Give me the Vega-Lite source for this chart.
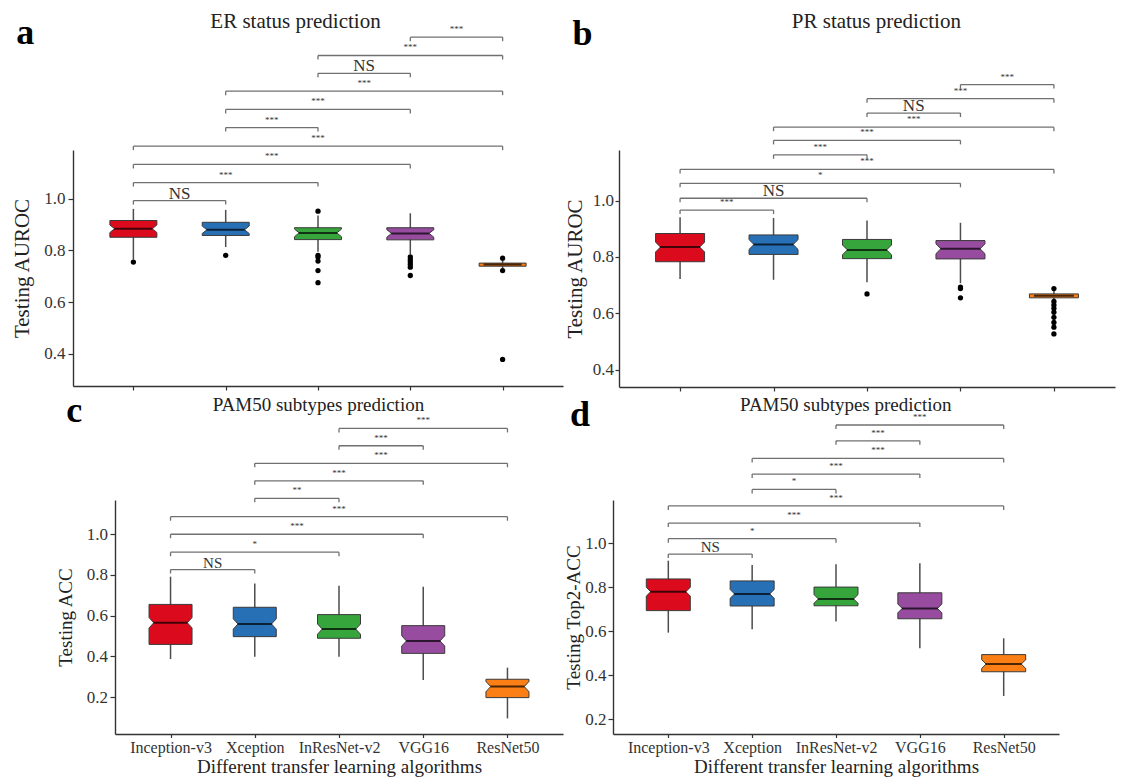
{
  "$schema": "https://vega.github.io/schema/vega-lite/v6.json",
  "background": "white",
  "padding": {"left": 11, "top": 10, "right": 5, "bottom": 5},
  "config": {
    "font": "Liberation Serif",
    "view": {"stroke": null},
    "axis": {"grid": false, "domainColor": "#333", "domainWidth": 1.4, "tickColor": "#333", "tickWidth": 1.2, "labelColor": "#333", "titleColor": "#222", "labelFont": "Liberation Serif", "titleFont": "Liberation Serif", "titleFontWeight": "normal", "labelFontSize": 17}
  },
  "datasets": {
    "boxes": [
      {"panel": "a", "model": "Inception-v3", "lo": 0.765, "q1": 0.851, "med": 0.884, "q3": 0.916, "hi": 0.961},
      {"panel": "a", "model": "Xception", "lo": 0.813, "q1": 0.858, "med": 0.880, "q3": 0.909, "hi": 0.957},
      {"panel": "a", "model": "InResNet-v2", "lo": 0.795, "q1": 0.842, "med": 0.868, "q3": 0.888, "hi": 0.935},
      {"panel": "a", "model": "VGG16", "lo": 0.785, "q1": 0.841, "med": 0.866, "q3": 0.888, "hi": 0.944},
      {"panel": "a", "model": "ResNet50", "lo": 0.730, "q1": 0.739, "med": 0.746, "q3": 0.751, "hi": 0.762},
      {"panel": "b", "model": "Inception-v3", "lo": 0.722, "q1": 0.783, "med": 0.835, "q3": 0.883, "hi": 0.941},
      {"panel": "b", "model": "Xception", "lo": 0.719, "q1": 0.809, "med": 0.844, "q3": 0.878, "hi": 0.938},
      {"panel": "b", "model": "InResNet-v2", "lo": 0.710, "q1": 0.794, "med": 0.825, "q3": 0.862, "hi": 0.929},
      {"panel": "b", "model": "VGG16", "lo": 0.707, "q1": 0.793, "med": 0.829, "q3": 0.858, "hi": 0.921},
      {"panel": "b", "model": "ResNet50", "lo": 0.650, "q1": 0.655, "med": 0.662, "q3": 0.669, "hi": 0.680},
      {"panel": "c", "model": "Inception-v3", "lo": 0.387, "q1": 0.459, "med": 0.565, "q3": 0.655, "hi": 0.791},
      {"panel": "c", "model": "Xception", "lo": 0.399, "q1": 0.497, "med": 0.559, "q3": 0.641, "hi": 0.758},
      {"panel": "c", "model": "InResNet-v2", "lo": 0.399, "q1": 0.489, "med": 0.534, "q3": 0.605, "hi": 0.747},
      {"panel": "c", "model": "VGG16", "lo": 0.284, "q1": 0.415, "med": 0.476, "q3": 0.551, "hi": 0.742},
      {"panel": "c", "model": "ResNet50", "lo": 0.096, "q1": 0.198, "med": 0.252, "q3": 0.288, "hi": 0.345},
      {"panel": "d", "model": "Inception-v3", "lo": 0.594, "q1": 0.694, "med": 0.780, "q3": 0.838, "hi": 0.921},
      {"panel": "d", "model": "Xception", "lo": 0.609, "q1": 0.715, "med": 0.770, "q3": 0.829, "hi": 0.901},
      {"panel": "d", "model": "InResNet-v2", "lo": 0.644, "q1": 0.716, "med": 0.747, "q3": 0.801, "hi": 0.905},
      {"panel": "d", "model": "VGG16", "lo": 0.523, "q1": 0.657, "med": 0.704, "q3": 0.775, "hi": 0.909},
      {"panel": "d", "model": "ResNet50", "lo": 0.306, "q1": 0.416, "med": 0.451, "q3": 0.494, "hi": 0.568}
    ],
    "outliers": [
      {"panel": "a", "model": "Inception-v3", "v": 0.755},
      {"panel": "a", "model": "Xception", "v": 0.781},
      {"panel": "a", "model": "InResNet-v2", "v": 0.952},
      {"panel": "a", "model": "InResNet-v2", "v": 0.781},
      {"panel": "a", "model": "InResNet-v2", "v": 0.775},
      {"panel": "a", "model": "InResNet-v2", "v": 0.759},
      {"panel": "a", "model": "InResNet-v2", "v": 0.722},
      {"panel": "a", "model": "InResNet-v2", "v": 0.675},
      {"panel": "a", "model": "VGG16", "v": 0.775},
      {"panel": "a", "model": "VGG16", "v": 0.764},
      {"panel": "a", "model": "VGG16", "v": 0.755},
      {"panel": "a", "model": "VGG16", "v": 0.746},
      {"panel": "a", "model": "VGG16", "v": 0.735},
      {"panel": "a", "model": "VGG16", "v": 0.703},
      {"panel": "a", "model": "ResNet50", "v": 0.770},
      {"panel": "a", "model": "ResNet50", "v": 0.722},
      {"panel": "a", "model": "ResNet50", "v": 0.378},
      {"panel": "b", "model": "InResNet-v2", "v": 0.669},
      {"panel": "b", "model": "VGG16", "v": 0.693},
      {"panel": "b", "model": "VGG16", "v": 0.688},
      {"panel": "b", "model": "VGG16", "v": 0.655},
      {"panel": "b", "model": "ResNet50", "v": 0.688},
      {"panel": "b", "model": "ResNet50", "v": 0.642},
      {"panel": "b", "model": "ResNet50", "v": 0.630},
      {"panel": "b", "model": "ResNet50", "v": 0.618},
      {"panel": "b", "model": "ResNet50", "v": 0.604},
      {"panel": "b", "model": "ResNet50", "v": 0.586},
      {"panel": "b", "model": "ResNet50", "v": 0.568},
      {"panel": "b", "model": "ResNet50", "v": 0.551},
      {"panel": "b", "model": "ResNet50", "v": 0.527}
    ],
    "brackets": [
      {"panel": "a", "from": "VGG16", "to": "ResNet50", "y": 1.626, "label": "***"},
      {"panel": "a", "from": "InResNet-v2", "to": "ResNet50", "y": 1.555, "label": "***"},
      {"panel": "a", "from": "InResNet-v2", "to": "VGG16", "y": 1.486, "label": "NS"},
      {"panel": "a", "from": "Xception", "to": "ResNet50", "y": 1.417, "label": "***"},
      {"panel": "a", "from": "Xception", "to": "VGG16", "y": 1.346, "label": "***"},
      {"panel": "a", "from": "Xception", "to": "InResNet-v2", "y": 1.276, "label": "***"},
      {"panel": "a", "from": "Inception-v3", "to": "ResNet50", "y": 1.204, "label": "***"},
      {"panel": "a", "from": "Inception-v3", "to": "VGG16", "y": 1.133, "label": "***"},
      {"panel": "a", "from": "Inception-v3", "to": "InResNet-v2", "y": 1.063, "label": "***"},
      {"panel": "a", "from": "Inception-v3", "to": "Xception", "y": 0.993, "label": "NS"},
      {"panel": "b", "from": "VGG16", "to": "ResNet50", "y": 1.411, "label": "***"},
      {"panel": "b", "from": "InResNet-v2", "to": "ResNet50", "y": 1.361, "label": "***"},
      {"panel": "b", "from": "InResNet-v2", "to": "VGG16", "y": 1.310, "label": "NS"},
      {"panel": "b", "from": "Xception", "to": "ResNet50", "y": 1.260, "label": "***"},
      {"panel": "b", "from": "Xception", "to": "VGG16", "y": 1.213, "label": "***"},
      {"panel": "b", "from": "Xception", "to": "InResNet-v2", "y": 1.162, "label": "***"},
      {"panel": "b", "from": "Inception-v3", "to": "ResNet50", "y": 1.110, "label": "***"},
      {"panel": "b", "from": "Inception-v3", "to": "VGG16", "y": 1.061, "label": "*"},
      {"panel": "b", "from": "Inception-v3", "to": "InResNet-v2", "y": 1.008, "label": "NS"},
      {"panel": "b", "from": "Inception-v3", "to": "Xception", "y": 0.966, "label": "***"},
      {"panel": "c", "from": "InResNet-v2", "to": "ResNet50", "y": 1.518, "label": "***"},
      {"panel": "c", "from": "InResNet-v2", "to": "VGG16", "y": 1.433, "label": "***"},
      {"panel": "c", "from": "Xception", "to": "ResNet50", "y": 1.347, "label": "***"},
      {"panel": "c", "from": "Xception", "to": "VGG16", "y": 1.261, "label": "***"},
      {"panel": "c", "from": "Xception", "to": "InResNet-v2", "y": 1.175, "label": "**"},
      {"panel": "c", "from": "Inception-v3", "to": "ResNet50", "y": 1.085, "label": "***"},
      {"panel": "c", "from": "Inception-v3", "to": "VGG16", "y": 0.999, "label": "***"},
      {"panel": "c", "from": "Inception-v3", "to": "InResNet-v2", "y": 0.911, "label": "*"},
      {"panel": "c", "from": "Inception-v3", "to": "Xception", "y": 0.826, "label": "NS"},
      {"panel": "d", "from": "InResNet-v2", "to": "ResNet50", "y": 1.538, "label": "***"},
      {"panel": "d", "from": "InResNet-v2", "to": "VGG16", "y": 1.466, "label": "***"},
      {"panel": "d", "from": "Xception", "to": "ResNet50", "y": 1.386, "label": "***"},
      {"panel": "d", "from": "Xception", "to": "VGG16", "y": 1.315, "label": "***"},
      {"panel": "d", "from": "Xception", "to": "InResNet-v2", "y": 1.245, "label": "*"},
      {"panel": "d", "from": "Inception-v3", "to": "ResNet50", "y": 1.170, "label": "***"},
      {"panel": "d", "from": "Inception-v3", "to": "VGG16", "y": 1.092, "label": "***"},
      {"panel": "d", "from": "Inception-v3", "to": "InResNet-v2", "y": 1.021, "label": "*"},
      {"panel": "d", "from": "Inception-v3", "to": "Xception", "y": 0.951, "label": "NS"}
    ]
  },
  "spacing": 0,
  "vconcat": [
    {
      "bounds": "flush",
      "spacing": 56,
      "hconcat": [
        {
          "width": 490, "height": 236,
          "layer": [
            {
              "data": {"name": "boxes"},
              "transform": [{"filter": "datum.panel === 'a'"}, {"calculate": "indexof(['Inception-v3','Xception','InResNet-v2','VGG16','ResNet50'], datum.model) + 1", "as": "i"}],
              "layer": [
                {"mark": {"type": "rule", "color": "#4d4d4d", "strokeWidth": 1.5},
                 "encoding": {
                   "x": {"field": "i", "type": "quantitative", "scale": {"domain": [0.4, 5.6], "nice": false, "zero": false}, "axis": {"values": [1, 2, 3, 4, 5], "labels": false, "tickSize": 4, "title": null}},
                   "y": {"field": "lo", "type": "quantitative", "scale": {"domain": [0.275, 1.189], "nice": false, "zero": false}, "axis": {"values": [0.4, 0.6, 0.8, 1.0], "format": ".1f", "tickSize": 5, "labelPadding": 3, "title": "Testing AUROC", "titleFontSize": 21, "titlePadding": 11.5}},
                   "y2": {"field": "hi"}}},
                {"mark": {"type": "bar", "width": 47, "stroke": "#3a3a3a", "strokeWidth": 1},
                 "encoding": {"x": {"field": "i", "type": "quantitative"}, "y": {"field": "q1", "type": "quantitative"}, "y2": {"field": "q3"},
                   "fill": {"field": "model", "type": "nominal", "scale": {"domain": ["Inception-v3", "Xception", "InResNet-v2", "VGG16", "ResNet50"], "range": ["#DB0A1C", "#2870B6", "#36A63C", "#984C9F", "#FB7F14"]}, "legend": null}}},
                {"transform": [{"filter": "datum.model !== 'ResNet50'"}],
                 "mark": {"type": "point", "shape": "M-1.12,-0.16L-1,-0.16L-0.8,0L-1,0.16L-1.12,0.16Z M1.12,-0.16L1,-0.16L0.8,0L1,0.16L1.12,0.16Z", "filled": true, "fill": "#ffffff", "strokeWidth": 0, "size": 2209, "opacity": 1},
                 "encoding": {"x": {"field": "i", "type": "quantitative"}, "y": {"field": "med", "type": "quantitative"}}},
                {"transform": [{"filter": "datum.model !== 'ResNet50'"}],
                 "mark": {"type": "point", "shape": "M-1,-0.16L-0.8,0L-1,0.16 M1,-0.16L0.8,0L1,0.16", "filled": false, "stroke": "#3a3a3a", "strokeWidth": 1, "size": 2209, "opacity": 1},
                 "encoding": {"x": {"field": "i", "type": "quantitative"}, "y": {"field": "med", "type": "quantitative"}}},
                {"mark": {"type": "tick", "orient": "horizontal", "size": 38, "thickness": 2, "color": "#000"},
                 "encoding": {"x": {"field": "i", "type": "quantitative"}, "y": {"field": "med", "type": "quantitative"}}}
              ]
            },
            {
              "data": {"name": "outliers"},
              "transform": [{"filter": "datum.panel === 'a'"}, {"calculate": "indexof(['Inception-v3','Xception','InResNet-v2','VGG16','ResNet50'], datum.model) + 1", "as": "i"}],
              "mark": {"type": "point", "filled": true, "color": "#000", "size": 28, "opacity": 1},
              "encoding": {"x": {"field": "i", "type": "quantitative"}, "y": {"field": "v", "type": "quantitative"}}
            },
            {
              "data": {"name": "brackets"},
              "transform": [{"filter": "datum.panel === 'a'"},
                {"calculate": "indexof(['Inception-v3','Xception','InResNet-v2','VGG16','ResNet50'], datum.from) + 1", "as": "fi"},
                {"calculate": "indexof(['Inception-v3','Xception','InResNet-v2','VGG16','ResNet50'], datum.to) + 1", "as": "ti"},
                {"calculate": "(datum.fi + datum.ti) / 2", "as": "mid"}],
              "layer": [
                {"mark": {"type": "rule", "color": "#707070", "strokeWidth": 1.3},
                 "encoding": {"x": {"field": "fi", "type": "quantitative"}, "x2": {"field": "ti"}, "y": {"field": "y", "type": "quantitative"}}},
                {"mark": {"type": "point", "shape": "M0,0L0,1", "filled": false, "stroke": "#707070", "strokeWidth": 1.3, "size": 64, "opacity": 1},
                 "encoding": {"x": {"field": "fi", "type": "quantitative"}, "y": {"field": "y", "type": "quantitative"}}},
                {"mark": {"type": "point", "shape": "M0,0L0,1", "filled": false, "stroke": "#707070", "strokeWidth": 1.3, "size": 64, "opacity": 1},
                 "encoding": {"x": {"field": "ti", "type": "quantitative"}, "y": {"field": "y", "type": "quantitative"}}},
                {"transform": [{"filter": "datum.label === 'NS'"}],
                 "mark": {"type": "text", "fontSize": 17, "color": "#333", "align": "center", "baseline": "alphabetic", "dy": -2},
                 "encoding": {"x": {"field": "mid", "type": "quantitative"}, "y": {"field": "y", "type": "quantitative"}, "text": {"field": "label"}}},
                {"transform": [{"filter": "datum.label !== 'NS'"}],
                 "mark": {"type": "text", "fontSize": 9, "color": "#333", "align": "center", "baseline": "alphabetic", "dy": -5},
                 "encoding": {"x": {"field": "mid", "type": "quantitative"}, "y": {"field": "y", "type": "quantitative"}, "text": {"field": "label"}}}
              ]
            },
            {
              "data": {"values": [{"t": "ER status prediction"}]},
              "mark": {"type": "text", "fontSize": 21, "color": "#222", "align": "center", "baseline": "alphabetic"},
              "encoding": {"x": {"datum": 2.756}, "y": {"datum": 1.663}, "text": {"field": "t"}}
            },
            {
              "data": {"values": [{"t": "a"}]},
              "mark": {"type": "text", "fontSize": 36, "fontWeight": "bold", "color": "#000", "align": "left", "baseline": "alphabetic"},
              "encoding": {"x": {"datum": -0.269}, "y": {"datum": 1.600}, "text": {"field": "t"}}
            }
          ]
        },
        {
          "width": 496, "height": 237,
          "layer": [
            {
              "data": {"name": "boxes"},
              "transform": [{"filter": "datum.panel === 'b'"}, {"calculate": "indexof(['Inception-v3','Xception','InResNet-v2','VGG16','ResNet50'], datum.model) + 1", "as": "i"}],
              "layer": [
                {"mark": {"type": "rule", "color": "#4d4d4d", "strokeWidth": 1.5},
                 "encoding": {
                   "x": {"field": "i", "type": "quantitative", "scale": {"domain": [0.4, 5.6], "nice": false, "zero": false}, "axis": {"values": [1, 2, 3, 4, 5], "labels": false, "tickSize": 4, "title": null}},
                   "y": {"field": "lo", "type": "quantitative", "scale": {"domain": [0.339, 1.179], "nice": false, "zero": false}, "axis": {"values": [0.4, 0.6, 0.8, 1.0], "format": ".1f", "tickSize": 4, "labelPadding": 1.5, "title": "Testing AUROC", "titleFontSize": 21, "titlePadding": 7}},
                   "y2": {"field": "hi"}}},
                {"mark": {"type": "bar", "width": 49, "stroke": "#3a3a3a", "strokeWidth": 1},
                 "encoding": {"x": {"field": "i", "type": "quantitative"}, "y": {"field": "q1", "type": "quantitative"}, "y2": {"field": "q3"},
                   "fill": {"field": "model", "type": "nominal", "scale": {"domain": ["Inception-v3", "Xception", "InResNet-v2", "VGG16", "ResNet50"], "range": ["#DB0A1C", "#2870B6", "#36A63C", "#984C9F", "#FB7F14"]}, "legend": null}}},
                {"transform": [{"filter": "datum.model !== 'ResNet50'"}],
                 "mark": {"type": "point", "shape": "M-1.12,-0.2L-1,-0.2L-0.8,0L-1,0.2L-1.12,0.2Z M1.12,-0.2L1,-0.2L0.8,0L1,0.2L1.12,0.2Z", "filled": true, "fill": "#ffffff", "strokeWidth": 0, "size": 2401, "opacity": 1},
                 "encoding": {"x": {"field": "i", "type": "quantitative"}, "y": {"field": "med", "type": "quantitative"}}},
                {"transform": [{"filter": "datum.model !== 'ResNet50'"}],
                 "mark": {"type": "point", "shape": "M-1,-0.2L-0.8,0L-1,0.2 M1,-0.2L0.8,0L1,0.2", "filled": false, "stroke": "#3a3a3a", "strokeWidth": 1, "size": 2401, "opacity": 1},
                 "encoding": {"x": {"field": "i", "type": "quantitative"}, "y": {"field": "med", "type": "quantitative"}}},
                {"mark": {"type": "tick", "orient": "horizontal", "size": 40, "thickness": 2, "color": "#000"},
                 "encoding": {"x": {"field": "i", "type": "quantitative"}, "y": {"field": "med", "type": "quantitative"}}}
              ]
            },
            {
              "data": {"name": "outliers"},
              "transform": [{"filter": "datum.panel === 'b'"}, {"calculate": "indexof(['Inception-v3','Xception','InResNet-v2','VGG16','ResNet50'], datum.model) + 1", "as": "i"}],
              "mark": {"type": "point", "filled": true, "color": "#000", "size": 28, "opacity": 1},
              "encoding": {"x": {"field": "i", "type": "quantitative"}, "y": {"field": "v", "type": "quantitative"}}
            },
            {
              "data": {"name": "brackets"},
              "transform": [{"filter": "datum.panel === 'b'"},
                {"calculate": "indexof(['Inception-v3','Xception','InResNet-v2','VGG16','ResNet50'], datum.from) + 1", "as": "fi"},
                {"calculate": "indexof(['Inception-v3','Xception','InResNet-v2','VGG16','ResNet50'], datum.to) + 1", "as": "ti"},
                {"calculate": "(datum.fi + datum.ti) / 2", "as": "mid"}],
              "layer": [
                {"mark": {"type": "rule", "color": "#707070", "strokeWidth": 1.3},
                 "encoding": {"x": {"field": "fi", "type": "quantitative"}, "x2": {"field": "ti"}, "y": {"field": "y", "type": "quantitative"}}},
                {"mark": {"type": "point", "shape": "M0,0L0,1", "filled": false, "stroke": "#707070", "strokeWidth": 1.3, "size": 64, "opacity": 1},
                 "encoding": {"x": {"field": "fi", "type": "quantitative"}, "y": {"field": "y", "type": "quantitative"}}},
                {"mark": {"type": "point", "shape": "M0,0L0,1", "filled": false, "stroke": "#707070", "strokeWidth": 1.3, "size": 64, "opacity": 1},
                 "encoding": {"x": {"field": "ti", "type": "quantitative"}, "y": {"field": "y", "type": "quantitative"}}},
                {"transform": [{"filter": "datum.label === 'NS'"}],
                 "mark": {"type": "text", "fontSize": 17, "color": "#333", "align": "center", "baseline": "alphabetic", "dy": -2},
                 "encoding": {"x": {"field": "mid", "type": "quantitative"}, "y": {"field": "y", "type": "quantitative"}, "text": {"field": "label"}}},
                {"transform": [{"filter": "datum.label !== 'NS'"}],
                 "mark": {"type": "text", "fontSize": 9, "color": "#333", "align": "center", "baseline": "alphabetic", "dy": -5},
                 "encoding": {"x": {"field": "mid", "type": "quantitative"}, "y": {"field": "y", "type": "quantitative"}, "text": {"field": "label"}}}
              ]
            },
            {
              "data": {"values": [{"t": "PR status prediction"}]},
              "mark": {"type": "text", "fontSize": 21, "color": "#222", "align": "center", "baseline": "alphabetic"},
              "encoding": {"x": {"datum": 3.100}, "y": {"datum": 1.610}, "text": {"field": "t"}}
            },
            {
              "data": {"values": [{"t": "b"}]},
              "mark": {"type": "text", "fontSize": 36, "fontWeight": "bold", "color": "#000", "align": "left", "baseline": "alphabetic"},
              "encoding": {"x": {"datum": -0.150}, "y": {"datum": 1.550}, "text": {"field": "t"}}
            }
          ]
        }
      ]
    },
    {
      "bounds": "flush",
      "spacing": 20,
      "hconcat": [
        {"width": 22, "height": 1, "data": {"values": []}, "mark": "point"},
        {
          "bounds": "flush",
          "spacing": 50,
          "hconcat": [
            {
              "width": 448, "height": 234,
              "layer": [
                {
                  "data": {"name": "boxes"},
                  "transform": [{"filter": "datum.panel === 'c'"}, {"calculate": "indexof(['Inception-v3','Xception','InResNet-v2','VGG16','ResNet50'], datum.model) + 1", "as": "i"}],
                  "layer": [
                    {"mark": {"type": "rule", "color": "#4d4d4d", "strokeWidth": 1.5},
                     "encoding": {
                       "x": {"field": "i", "type": "quantitative", "scale": {"domain": [0.4, 5.6], "nice": false, "zero": false}, "axis": {"values": [1, 2, 3, 4, 5], "labelExpr": "['','Inception-v3','Xception','InResNet-v2','VGG16','ResNet50'][datum.value]", "labelFontSize": 16, "labelPadding": 2, "tickSize": 3.5, "title": "Different transfer learning algorithms", "titleFontSize": 19, "titlePadding": 2}},
                       "y": {"field": "lo", "type": "quantitative", "scale": {"domain": [0.0196, 1.167], "nice": false, "zero": false}, "axis": {"values": [0.2, 0.4, 0.6, 0.8, 1.0], "format": ".1f", "tickSize": 5, "labelPadding": 2.5, "title": "Testing ACC", "titleFontSize": 19, "titlePadding": 10.5}},
                       "y2": {"field": "hi"}}},
                    {"mark": {"type": "bar", "width": 43, "stroke": "#3a3a3a", "strokeWidth": 1},
                     "encoding": {"x": {"field": "i", "type": "quantitative"}, "y": {"field": "q1", "type": "quantitative"}, "y2": {"field": "q3"},
                       "fill": {"field": "model", "type": "nominal", "scale": {"domain": ["Inception-v3", "Xception", "InResNet-v2", "VGG16", "ResNet50"], "range": ["#DB0A1C", "#2870B6", "#36A63C", "#984C9F", "#FB7F14"]}, "legend": null}}},
                    {"mark": {"type": "point", "shape": "M-1.12,-0.24L-1,-0.24L-0.78,0L-1,0.24L-1.12,0.24Z M1.12,-0.24L1,-0.24L0.78,0L1,0.24L1.12,0.24Z", "filled": true, "fill": "#ffffff", "strokeWidth": 0, "size": 1849, "opacity": 1},
                     "encoding": {"x": {"field": "i", "type": "quantitative"}, "y": {"field": "med", "type": "quantitative"}}},
                    {"mark": {"type": "point", "shape": "M-1,-0.24L-0.78,0L-1,0.24 M1,-0.24L0.78,0L1,0.24", "filled": false, "stroke": "#3a3a3a", "strokeWidth": 1, "size": 1849, "opacity": 1},
                     "encoding": {"x": {"field": "i", "type": "quantitative"}, "y": {"field": "med", "type": "quantitative"}}},
                    {"mark": {"type": "tick", "orient": "horizontal", "size": 34, "thickness": 2, "color": "#000"},
                     "encoding": {"x": {"field": "i", "type": "quantitative"}, "y": {"field": "med", "type": "quantitative"}}}
                  ]
                },
                {
                  "data": {"name": "brackets"},
                  "transform": [{"filter": "datum.panel === 'c'"},
                    {"calculate": "indexof(['Inception-v3','Xception','InResNet-v2','VGG16','ResNet50'], datum.from) + 1", "as": "fi"},
                    {"calculate": "indexof(['Inception-v3','Xception','InResNet-v2','VGG16','ResNet50'], datum.to) + 1", "as": "ti"},
                    {"calculate": "(datum.fi + datum.ti) / 2", "as": "mid"}],
                  "layer": [
                    {"mark": {"type": "rule", "color": "#707070", "strokeWidth": 1.3},
                     "encoding": {"x": {"field": "fi", "type": "quantitative"}, "x2": {"field": "ti"}, "y": {"field": "y", "type": "quantitative"}}},
                    {"mark": {"type": "point", "shape": "M0,0L0,1", "filled": false, "stroke": "#707070", "strokeWidth": 1.3, "size": 64, "opacity": 1},
                     "encoding": {"x": {"field": "fi", "type": "quantitative"}, "y": {"field": "y", "type": "quantitative"}}},
                    {"mark": {"type": "point", "shape": "M0,0L0,1", "filled": false, "stroke": "#707070", "strokeWidth": 1.3, "size": 64, "opacity": 1},
                     "encoding": {"x": {"field": "ti", "type": "quantitative"}, "y": {"field": "y", "type": "quantitative"}}},
                    {"transform": [{"filter": "datum.label === 'NS'"}],
                     "mark": {"type": "text", "fontSize": 15, "color": "#333", "align": "center", "baseline": "alphabetic", "dy": -2},
                     "encoding": {"x": {"field": "mid", "type": "quantitative"}, "y": {"field": "y", "type": "quantitative"}, "text": {"field": "label"}}},
                    {"transform": [{"filter": "datum.label !== 'NS'"}],
                     "mark": {"type": "text", "fontSize": 9, "color": "#333", "align": "center", "baseline": "alphabetic", "dy": -5},
                     "encoding": {"x": {"field": "mid", "type": "quantitative"}, "y": {"field": "y", "type": "quantitative"}, "text": {"field": "label"}}}
                  ]
                },
                {
                  "data": {"values": [{"t": "PAM50 subtypes prediction"}]},
                  "mark": {"type": "text", "fontSize": 19, "color": "#222", "align": "center", "baseline": "alphabetic"},
                  "encoding": {"x": {"datum": 2.756}, "y": {"datum": 1.604}, "text": {"field": "t"}}
                },
                {
                  "data": {"values": [{"t": "c"}]},
                  "mark": {"type": "text", "fontSize": 36, "fontWeight": "bold", "color": "#000", "align": "left", "baseline": "alphabetic"},
                  "encoding": {"x": {"datum": -0.238}, "y": {"datum": 1.550}, "text": {"field": "t"}}
                }
              ]
            },
            {
              "width": 446, "height": 234,
              "layer": [
                {
                  "data": {"name": "boxes"},
                  "transform": [{"filter": "datum.panel === 'd'"}, {"calculate": "indexof(['Inception-v3','Xception','InResNet-v2','VGG16','ResNet50'], datum.model) + 1", "as": "i"}],
                  "layer": [
                    {"mark": {"type": "rule", "color": "#4d4d4d", "strokeWidth": 1.5},
                     "encoding": {
                       "x": {"field": "i", "type": "quantitative", "scale": {"domain": [0.4, 5.6], "nice": false, "zero": false}, "axis": {"values": [1, 2, 3, 4, 5], "labelExpr": "['','Inception-v3','Xception','InResNet-v2','VGG16','ResNet50'][datum.value]", "labelFontSize": 16, "labelPadding": 2, "tickSize": 3.5, "title": "Different transfer learning algorithms", "titleFontSize": 19, "titlePadding": 2}},
                       "y": {"field": "lo", "type": "quantitative", "scale": {"domain": [0.133, 1.197], "nice": false, "zero": false}, "axis": {"values": [0.2, 0.4, 0.6, 0.8, 1.0], "format": ".1f", "tickSize": 5, "labelPadding": 2, "title": "Testing Top2-ACC", "titleFontSize": 19, "titlePadding": 1.5}},
                       "y2": {"field": "hi"}}},
                    {"mark": {"type": "bar", "width": 44, "stroke": "#3a3a3a", "strokeWidth": 1},
                     "encoding": {"x": {"field": "i", "type": "quantitative"}, "y": {"field": "q1", "type": "quantitative"}, "y2": {"field": "q3"},
                       "fill": {"field": "model", "type": "nominal", "scale": {"domain": ["Inception-v3", "Xception", "InResNet-v2", "VGG16", "ResNet50"], "range": ["#DB0A1C", "#2870B6", "#36A63C", "#984C9F", "#FB7F14"]}, "legend": null}}},
                    {"mark": {"type": "point", "shape": "M-1.12,-0.2L-1,-0.2L-0.8,0L-1,0.2L-1.12,0.2Z M1.12,-0.2L1,-0.2L0.8,0L1,0.2L1.12,0.2Z", "filled": true, "fill": "#ffffff", "strokeWidth": 0, "size": 1936, "opacity": 1},
                     "encoding": {"x": {"field": "i", "type": "quantitative"}, "y": {"field": "med", "type": "quantitative"}}},
                    {"mark": {"type": "point", "shape": "M-1,-0.2L-0.8,0L-1,0.2 M1,-0.2L0.8,0L1,0.2", "filled": false, "stroke": "#3a3a3a", "strokeWidth": 1, "size": 1936, "opacity": 1},
                     "encoding": {"x": {"field": "i", "type": "quantitative"}, "y": {"field": "med", "type": "quantitative"}}},
                    {"mark": {"type": "tick", "orient": "horizontal", "size": 36, "thickness": 2, "color": "#000"},
                     "encoding": {"x": {"field": "i", "type": "quantitative"}, "y": {"field": "med", "type": "quantitative"}}}
                  ]
                },
                {
                  "data": {"name": "brackets"},
                  "transform": [{"filter": "datum.panel === 'd'"},
                    {"calculate": "indexof(['Inception-v3','Xception','InResNet-v2','VGG16','ResNet50'], datum.from) + 1", "as": "fi"},
                    {"calculate": "indexof(['Inception-v3','Xception','InResNet-v2','VGG16','ResNet50'], datum.to) + 1", "as": "ti"},
                    {"calculate": "(datum.fi + datum.ti) / 2", "as": "mid"}],
                  "layer": [
                    {"mark": {"type": "rule", "color": "#707070", "strokeWidth": 1.3},
                     "encoding": {"x": {"field": "fi", "type": "quantitative"}, "x2": {"field": "ti"}, "y": {"field": "y", "type": "quantitative"}}},
                    {"mark": {"type": "point", "shape": "M0,0L0,1", "filled": false, "stroke": "#707070", "strokeWidth": 1.3, "size": 64, "opacity": 1},
                     "encoding": {"x": {"field": "fi", "type": "quantitative"}, "y": {"field": "y", "type": "quantitative"}}},
                    {"mark": {"type": "point", "shape": "M0,0L0,1", "filled": false, "stroke": "#707070", "strokeWidth": 1.3, "size": 64, "opacity": 1},
                     "encoding": {"x": {"field": "ti", "type": "quantitative"}, "y": {"field": "y", "type": "quantitative"}}},
                    {"transform": [{"filter": "datum.label === 'NS'"}],
                     "mark": {"type": "text", "fontSize": 15, "color": "#333", "align": "center", "baseline": "alphabetic", "dy": -2},
                     "encoding": {"x": {"field": "mid", "type": "quantitative"}, "y": {"field": "y", "type": "quantitative"}, "text": {"field": "label"}}},
                    {"transform": [{"filter": "datum.label !== 'NS'"}],
                     "mark": {"type": "text", "fontSize": 9, "color": "#333", "align": "center", "baseline": "alphabetic", "dy": -5},
                     "encoding": {"x": {"field": "mid", "type": "quantitative"}, "y": {"field": "y", "type": "quantitative"}, "text": {"field": "label"}}}
                  ]
                },
                {
                  "data": {"values": [{"t": "PAM50 subtypes prediction"}]},
                  "mark": {"type": "text", "fontSize": 19, "color": "#222", "align": "center", "baseline": "alphabetic"},
                  "encoding": {"x": {"datum": 3.117}, "y": {"datum": 1.601}, "text": {"field": "t"}}
                },
                {
                  "data": {"values": [{"t": "d"}]},
                  "mark": {"type": "text", "fontSize": 36, "fontWeight": "bold", "color": "#000", "align": "left", "baseline": "alphabetic"},
                  "encoding": {"x": {"datum": -0.171}, "y": {"datum": 1.533}, "text": {"field": "t"}}
                }
              ]
            }
          ]
        }
      ]
    }
  ]
}
